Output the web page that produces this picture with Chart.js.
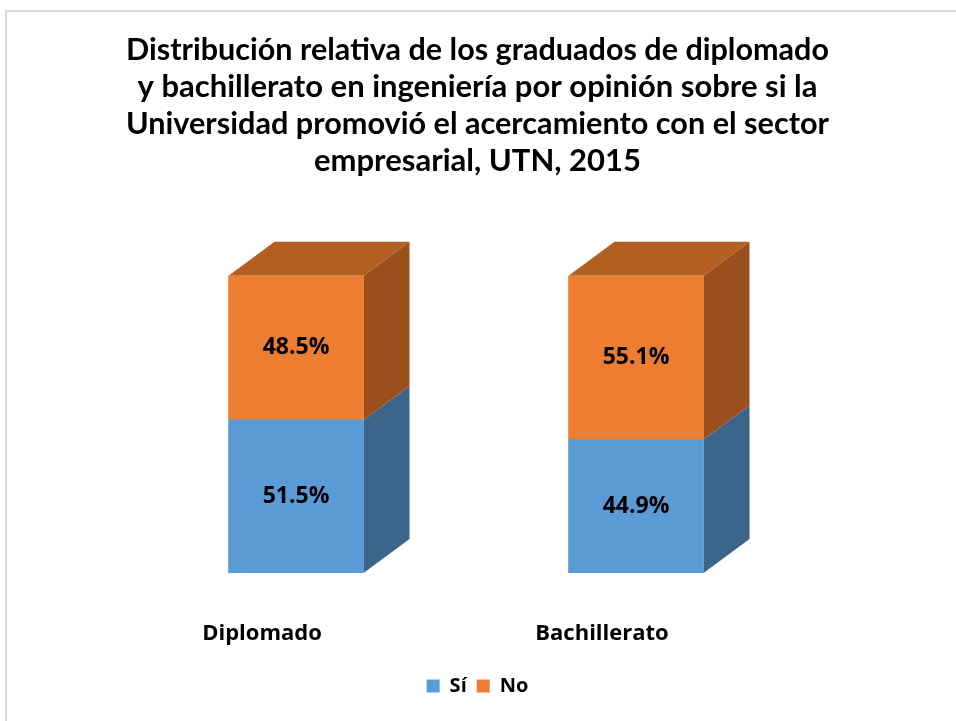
<!DOCTYPE html>
<html>
<head>
<meta charset="utf-8">
<script src="https://cdn.jsdelivr.net/npm/chart.js@4.4.1/dist/chart.umd.min.js"></script>
<style>
  html, body { margin: 0; padding: 0; background: #fff; }
  canvas { display: block; }
</style>
</head>
<body>
<canvas id="chart" width="956" height="721"></canvas>
<script>
const categories = ["Diplomado", "Bachillerato"];
const seriesNames = ["Sí", "No"];
const valuesSi = [51.5, 44.9];
const valuesNo = [48.5, 55.1];
const titleLines = [
	"Distribución relativa de los graduados de diplomado",
	"y bachillerato en ingeniería por opinión sobre si la",
	"Universidad promovió el acercamiento con el sector",
	"empresarial, UTN, 2015",
];

const colBlue = "#5b9bd5";
const colOrange = "#ed7d31";
const sideColors = ["#3b6489", "#9a4f1d"];
const topColor = "#b45f22";
const depthX = 46;
const depthY = -34;

// chart frame, like the Excel border
const frame = {
	id: "frame",
	beforeDraw(chart) {
		const ctx = chart.ctx;
		ctx.save();
		ctx.fillStyle = "#fff";
		ctx.fillRect(0, 0, chart.width, chart.height);
		ctx.strokeStyle = "#d9d9d9";
		ctx.lineWidth = 2;
		ctx.strokeRect(6, 11, chart.width + 20, chart.height + 20);
		ctx.restore();
	},
};

// fake 3d: side and top faces from each bar element
const bars3d = {
	id: "bars3d",
	beforeDatasetsDraw(chart) {
		const ctx = chart.ctx;
		const last = chart.data.datasets.length - 1;
		ctx.save();
		chart.data.datasets.forEach((ds, di) => {
			chart.getDatasetMeta(di).data.forEach((bar) => {
				const left = bar.x - bar.width / 2;
				const right = bar.x + bar.width / 2;
				const top = bar.y;
				const bottom = bar.base;
				ctx.fillStyle = sideColors[di];
				ctx.beginPath();
				ctx.moveTo(right, top);
				ctx.lineTo(right + depthX, top + depthY);
				ctx.lineTo(right + depthX, bottom + depthY);
				ctx.lineTo(right, bottom);
				ctx.closePath();
				ctx.fill();
				if (di === last) {
					ctx.fillStyle = topColor;
					ctx.beginPath();
					ctx.moveTo(left, top);
					ctx.lineTo(left + depthX, top + depthY);
					ctx.lineTo(right + depthX, top + depthY);
					ctx.lineTo(right, top);
					ctx.closePath();
					ctx.fill();
				}
			});
		});
		ctx.restore();
	},
	afterDatasetsDraw(chart) {
		const ctx = chart.ctx;
		ctx.save();
		ctx.fillStyle = "#000";
		ctx.font = "bold 23px 'Open Sans'";
		ctx.textAlign = "center";
		ctx.textBaseline = "middle";
		chart.data.datasets.forEach((ds, di) => {
			chart.getDatasetMeta(di).data.forEach((bar, i) => {
				ctx.fillText(ds.data[i].toFixed(1) + "%", bar.x, (bar.y + bar.base) / 2);
			});
		});
		ctx.restore();
	},
};

new Chart(document.getElementById("chart"), {
	type: "bar",
	data: {
		labels: categories,
		datasets: [
			{
				label: seriesNames[0],
				data: valuesSi,
				backgroundColor: colBlue,
				borderWidth: 0,
			},
			{
				label: seriesNames[1],
				data: valuesNo,
				backgroundColor: colOrange,
				borderWidth: 0,
			},
		],
	},
	plugins: [frame, bars3d],
	options: {
		responsive: false,
		animation: false,
		devicePixelRatio: 1,
		barThickness: 135,
		layout: {
			padding: { left: 126, right: 127, top: 0, bottom: 15 },
		},
		plugins: {
			title: {
				display: true,
				text: titleLines,
				color: "#000",
				font: { family: "Lato", size: 31, weight: "bold", lineHeight: 1.2 },
				padding: { top: 31, bottom: 96 },
			},
			legend: {
				position: "bottom",
				labels: {
					color: "#000",
					boxWidth: 13,
					boxHeight: 13,
					padding: 10,
					font: { family: "'Open Sans'", size: 20, weight: "bold" },
				},
			},
			tooltip: { enabled: false },
		},
		scales: {
			x: {
				stacked: true,
				grid: { display: false },
				border: { display: false },
				ticks: {
					color: "#000",
					padding: 40,
					labelOffset: -34,
					font: { family: "'Open Sans'", size: 22, weight: "bold" },
				},
				afterFit(scale) {
					scale.height = 93;
				},
			},
			y: {
				stacked: true,
				position: "right",
				min: 0,
				max: 100,
				grid: { display: false },
				border: { display: false },
				ticks: { display: false },
				afterFit(scale) {
					scale.width = 23;
				},
			},
		},
	},
});
</script>
</body>
</html>
